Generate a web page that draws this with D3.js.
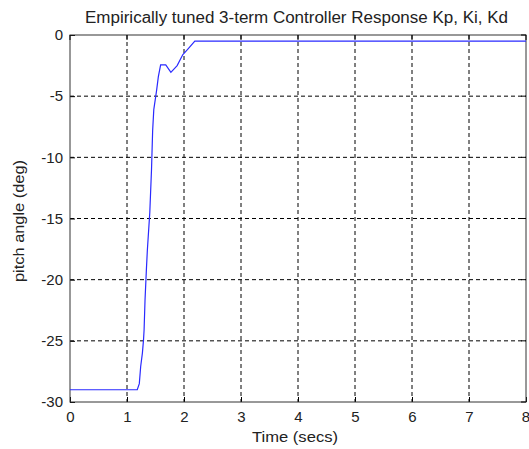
<!DOCTYPE html>
<html>
<head>
<meta charset="utf-8">
<script src="https://cdn.jsdelivr.net/npm/d3@7"></script>
<style>
  body { margin: 0; background: #fff; }
  text { font-family: "Liberation Sans", Arial, sans-serif; }
</style>
</head>
<body>
<svg width="529" height="449"></svg>
<script>
// response curve
const time  = [0, 1.18, 1.216, 1.24, 1.27, 1.29, 1.30, 1.316, 1.34, 1.357, 1.40, 1.43, 1.45, 1.47, 1.52, 1.55, 1.59, 1.68, 1.77, 1.88, 1.98, 2.06, 2.19, 8];
const pitch = [-29, -29, -28.5, -27.1, -26.0, -24.9, -24.1, -21.7, -19.2, -17.6, -14.5, -11.0, -7.8, -6.1, -4.5, -3.4, -2.45, -2.45, -3.05, -2.5, -1.6, -1.2, -0.5, -0.5];
const xTicks = [0, 1, 2, 3, 4, 5, 6, 7, 8];
const yTicks = [0, -5, -10, -15, -20, -25, -30];

const pLeft = 70, pRight = 526, pTop = 35, pBottom = 402;
const svg = d3.select("svg");

const x = d3.scaleLinear().domain([0, 8]).range([pLeft, pRight]);
const y = d3.scaleLinear().domain([-30, 0]).range([pBottom, pTop]);

// grid
svg.append("g").selectAll("line").data(xTicks.slice(1, -1)).enter().append("line")
  .attr("x1", d => x(d)).attr("x2", d => x(d))
  .attr("y1", pTop).attr("y2", pBottom)
  .attr("stroke", "#000").attr("stroke-dasharray", "4,3");
svg.append("g").selectAll("line").data(yTicks.slice(1, -1)).enter().append("line")
  .attr("y1", d => y(d)).attr("y2", d => y(d))
  .attr("x1", pLeft).attr("x2", pRight)
  .attr("stroke", "#000").attr("stroke-dasharray", "4,3");

// axes (ticks inward)
const xa = svg.append("g").attr("transform", "translate(0," + pBottom + ")")
  .call(d3.axisBottom(x).tickValues(xTicks).tickSize(-5).tickPadding(9).tickFormat(d3.format("d")));
const ya = svg.append("g").attr("transform", "translate(" + pLeft + ",0)")
  .call(d3.axisLeft(y).tickValues(yTicks).tickSize(-5).tickPadding(7).tickFormat(d => d));
[xa, ya].forEach(a => {
  a.select(".domain").remove();
  a.selectAll("text").attr("font-size", 15).attr("font-family", "Liberation Sans, Arial, sans-serif").attr("fill", "#222");
});
// keep the last x label inside the window
xa.selectAll("text").filter(d => d === 8).attr("text-anchor", "end").attr("dx", 3.5);

// box
svg.append("rect").attr("x", pLeft).attr("y", pTop)
  .attr("width", pRight - pLeft).attr("height", pBottom - pTop)
  .attr("fill", "none").attr("stroke", "#333");

// top/right inner ticks
svg.append("g").selectAll("line").data(xTicks).enter().append("line")
  .attr("x1", d => x(d)).attr("x2", d => x(d)).attr("y1", pTop).attr("y2", pTop + 5).attr("stroke", "#000");
svg.append("g").selectAll("line").data(yTicks).enter().append("line")
  .attr("y1", d => y(d)).attr("y2", d => y(d)).attr("x1", pRight).attr("x2", pRight - 5).attr("stroke", "#000");

// curve
const pts = time.map((t, i) => [t, pitch[i]]);
svg.append("path").datum(pts)
  .attr("fill", "none").attr("stroke", "#2a2aff").attr("stroke-width", 1.2)
  .attr("d", d3.line().x(d => x(d[0])).y(d => y(d[1])));

// labels
svg.append("text").attr("x", 85).attr("y", 22.5)
  .attr("font-size", 16).attr("textLength", 423).attr("lengthAdjust", "spacingAndGlyphs")
  .attr("fill", "#222").text("Empirically tuned 3-term Controller Response Kp, Ki, Kd");
svg.append("text").attr("x", 252).attr("y", 442)
  .attr("font-size", 15).attr("textLength", 86).attr("lengthAdjust", "spacingAndGlyphs")
  .attr("fill", "#222").text("Time (secs)");
svg.append("text").attr("transform", "translate(24,282) rotate(-90)")
  .attr("font-size", 15).attr("textLength", 122).attr("lengthAdjust", "spacingAndGlyphs")
  .attr("fill", "#222").text("pitch angle (deg)");
</script>
</body>
</html>
